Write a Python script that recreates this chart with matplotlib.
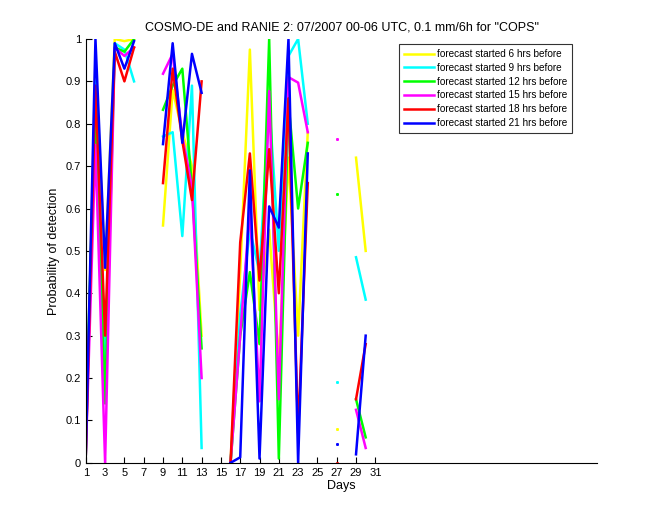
import numpy as np
import matplotlib
matplotlib.use("Agg")
import matplotlib.pyplot as plt

nan = np.nan

days = list(range(1, 31))

# probability of detection per day (nan = no data)
pod_6h = [0.02, 0.95, 0.455, 1.00, 0.995, 1.00, nan, nan, 0.56, 0.88, 0.78, 0.70, 0.30, nan, nan,
          0.00, 0.45, 0.975, 0.36, 0.55, 0.24, 0.72, 0.30, 0.78, nan, nan, 0.08, nan, 0.72, 0.50]
pod_9h = [0.02, 0.90, 0.20, 0.99, 0.975, 0.90, nan, nan, 0.77, 0.78, 0.535, 0.89, 0.035, nan, nan,
          0.00, 0.35, 0.55, 0.45, 0.85, 0.50, 0.96, 1.00, 0.80, nan, nan, 0.19, nan, 0.485, 0.385]
pod_12h = [0.10, 0.85, 0.14, 0.98, 0.97, 1.00, nan, nan, 0.833, 0.89, 0.93, 0.65, 0.27, nan, nan,
           0.00, 0.30, 0.45, 0.28, 1.00, 0.01, 0.85, 0.60, 0.755, nan, nan, 0.635, nan, 0.15, 0.06]
pod_15h = [0.02, 0.75, 0.00, 0.98, 0.96, 0.98, nan, nan, 0.918, 0.965, 0.77, 0.65, 0.20, nan, nan,
           0.00, 0.30, 0.60, 0.145, 0.877, 0.15, 0.91, 0.897, 0.78, nan, nan, 0.765, nan, 0.125, 0.035]
pod_18h = [0.02, 0.89, 0.30, 0.97, 0.90, 0.98, nan, nan, 0.66, 0.93, 0.76, 0.62, 0.90, nan, nan,
           0.00, 0.52, 0.73, 0.43, 0.74, 0.40, 0.86, 0.07, 0.66, nan, nan, 0.00, nan, 0.15, 0.28]
pod_21h = [0.02, 1.00, 0.46, 0.99, 0.93, 0.995, nan, nan, 0.752, 0.99, 0.755, 0.965, 0.873, nan, nan,
           0.00, 0.013, 0.69, 0.01, 0.605, 0.555, 1.00, 0.00, 0.73, nan, nan, 0.045, nan, 0.02, 0.30]

labels = ["forecast started 6 hrs before", "forecast started 9 hrs before",
          "forecast started 12 hrs before", "forecast started 15 hrs before",
          "forecast started 18 hrs before", "forecast started 21 hrs before"]
series = [pod_6h, pod_9h, pod_12h, pod_15h, pod_18h, pod_21h]
colors = ["#ffff00", "#00ffff", "#00ff00", "#ff00ff", "#ff0000", "#0000ff"]

plt.rcParams['font.family'] = ['Liberation Sans', 'DejaVu Sans']

fig = plt.figure(figsize=(6.6, 5.2), dpi=100)
ax = fig.add_axes([0.13, 0.11, 0.775, 0.815])

x = np.array(days)
for vals, col, lab in zip(series, colors, labels):
    y = np.array(vals, dtype=float)
    ax.plot(x, y, color=col, lw=1.8, label=lab)
    # single points surrounded by gaps do not show as a line, mark them
    ok = np.isfinite(y)
    prev_ok = np.r_[False, ok[:-1]]
    next_ok = np.r_[ok[1:], False]
    lone = ok & ~prev_ok & ~next_ok
    ax.plot(x[lone], y[lone], ls="none", marker="s", ms=1.1, color=col, mec=col)

ax.set_xlim(1, 54)
ax.set_ylim(0, 1)
ax.set_xticks(range(1, 32, 2))
ax.set_yticks(np.arange(0, 1.01, 0.1))
ax.set_yticklabels(["0", "0.1", "0.2", "0.3", "0.4", "0.5", "0.6", "0.7", "0.8", "0.9", "1"])
ax.tick_params(direction="in", length=4, labelsize=8, width=0.8)
ax.spines["top"].set_visible(False)
ax.spines["right"].set_visible(False)

ax.set_xlabel("Days", fontsize=9, labelpad=2)
ax.set_ylabel("Probability of detection", fontsize=9)
ax.set_title('COSMO-DE and RANIE 2: 07/2007 00-06 UTC, 0.1 mm/6h for "COPS"', fontsize=9)

leg = ax.legend(loc="upper right", bbox_to_anchor=(0.96, 1.0), fontsize=7.2,
                frameon=True, fancybox=False, edgecolor="black", handlelength=3.0,
                handletextpad=0.3, labelspacing=0.38, borderpad=0.5)
leg.get_frame().set_linewidth(0.8)
for h in leg.get_lines():
    h.set_linewidth(1.8)

fig.savefig("out.png", dpi=100)
